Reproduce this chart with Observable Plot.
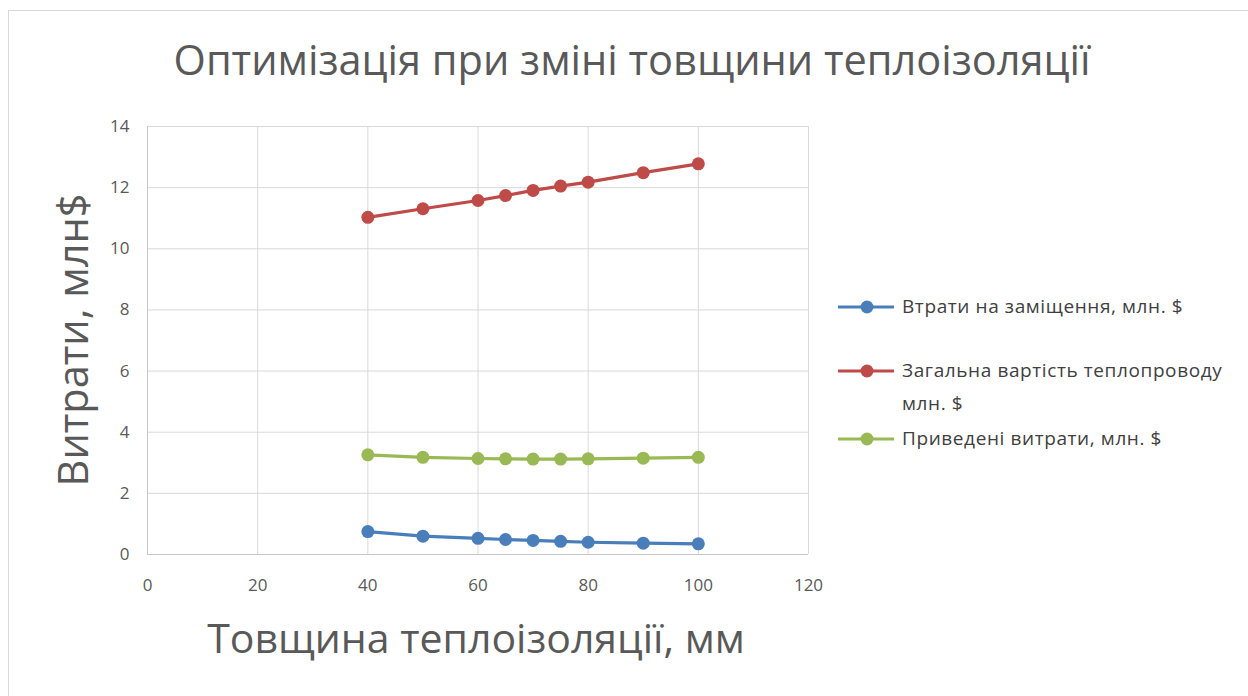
<!DOCTYPE html>
<html>
<head>
<meta charset="utf-8">
<script src="https://cdn.jsdelivr.net/npm/d3@7"></script>
<script src="https://cdn.jsdelivr.net/npm/@observablehq/plot@0.6"></script>
<style>
  html, body { margin: 0; padding: 0; background: #fff; overflow: hidden; }
  #chart { position: relative; width: 1248px; height: 696px; font-family: "Open Sans", sans-serif; color: #595959; }
  #frame { position: absolute; left: 8px; top: 10px; width: 1300px; height: 800px; border: 1px solid #d9d9d9; box-sizing: border-box; }
  #plot { position: absolute; left: 0; top: 0; }
  .title { position: absolute; left: 632px; top: 31px; transform: translateX(-50%); font-size: 41.5px; white-space: nowrap; color: #595959; }
  .xtitle { position: absolute; left: 476px; top: 609px; transform: translateX(-50%); font-size: 41px; white-space: nowrap; color: #595959; }
  .ytitle { position: absolute; left: 72px; top: 340px; transform: translate(-50%, -50%) rotate(-90deg); font-size: 41.5px; white-space: nowrap; color: #595959; }
  .legend { position: absolute; left: 836px; top: 290px; font-size: 19px; letter-spacing: 0.6px; color: #404040; }
  .legend .item { position: absolute; left: 0; display: flex; align-items: flex-start; white-space: nowrap; }
  .legend svg { flex: none; margin-right: 6px; }
  .legend .label { line-height: 33px; }
</style>
</head>
<body>
<div id="chart">
  <div id="frame"></div>
  <div id="plot"></div>
  <div class="title">Оптимізація при зміні товщини теплоізоляції</div>
  <div class="ytitle">Витрати, млн$</div>
  <div class="xtitle">Товщина теплоізоляції, мм</div>
  <div class="legend" id="legend"></div>
</div>
<script>
// Insulation thickness, mm
const thickness = [40, 50, 60, 65, 70, 75, 80, 90, 100];
// Replacement losses, mln $
const replacementLoss = [0.75, 0.60, 0.53, 0.49, 0.46, 0.43, 0.40, 0.37, 0.35];
// Total heat pipeline cost, mln $
const totalCost = [11.03, 11.31, 11.58, 11.74, 11.91, 12.05, 12.18, 12.49, 12.78];
// Reduced costs, mln $
const reducedCost = [3.26, 3.18, 3.14, 3.13, 3.12, 3.12, 3.13, 3.15, 3.18];

const seriesNames = [
  "Втрати на заміщення, млн. $",
  "Загальна вартість теплопроводу млн. $",
  "Приведені витрати, млн. $"
];
const legendLines = [
  ["Втрати на заміщення, млн. $"],
  ["Загальна вартість теплопроводу", "млн. $"],
  ["Приведені витрати, млн. $"]
];
const seriesColors = ["#4a7ebb", "#be4b48", "#98b954"];
const xTicks = [0, 20, 40, 60, 80, 100, 120];
const yTicks = [0, 2, 4, 6, 8, 10, 12, 14];

const seriesValues = [replacementLoss, totalCost, reducedCost];
const rows = seriesNames.flatMap((name, i) =>
  thickness.map((t, j) => ({series: name, thickness: t, value: seriesValues[i][j]}))
);

const chart = Plot.plot({
  width: 1248,
  height: 696,
  marginLeft: 147,
  marginRight: 440,
  marginTop: 126,
  marginBottom: 142,
  style: {fontFamily: "'Open Sans', sans-serif", fontSize: "17px", color: "#595959", background: "transparent"},
  x: {domain: [0, 120], ticks: xTicks, label: null},
  y: {domain: [0, 14], ticks: yTicks, label: null},
  color: {domain: seriesNames, range: seriesColors},
  marks: [
    Plot.gridX(xTicks, {stroke: "#d9d9d9", strokeOpacity: 1}),
    Plot.gridY(yTicks, {stroke: "#d9d9d9", strokeOpacity: 1}),
    Plot.ruleY([0], {stroke: "#c8c8c8"}),
    Plot.ruleX([0], {stroke: "#c8c8c8"}),
    Plot.axisX(xTicks, {tickSize: 0, tickPadding: 24, fontSize: 17}),
    Plot.axisY(yTicks, {tickSize: 0, tickPadding: 18, fontSize: 17}),
    Plot.line(rows, {x: "thickness", y: "value", z: "series", stroke: "series", strokeWidth: 3.2}),
    Plot.dot(rows, {x: "thickness", y: "value", fill: "series", r: 6.5})
  ]
});
document.getElementById("plot").appendChild(chart);

// Legend entries, each with a line-and-marker swatch
const legend = d3.select("#legend");
const legendTops = [0, 64, 132];
seriesNames.forEach((name, i) => {
  const item = legend.append("div").attr("class", "item").style("top", legendTops[i] + "px");
  const sw = item.append("svg").attr("width", 60).attr("height", 33);
  sw.append("line").attr("x1", 2).attr("x2", 58).attr("y1", 17).attr("y2", 17)
    .attr("stroke", seriesColors[i]).attr("stroke-width", 3.2);
  sw.append("circle").attr("cx", 31).attr("cy", 17).attr("r", 6.5).attr("fill", seriesColors[i]);
  const lab = item.append("div").attr("class", "label");
  legendLines[i].forEach(t => lab.append("div").text(t));
});
</script>
</body>
</html>
